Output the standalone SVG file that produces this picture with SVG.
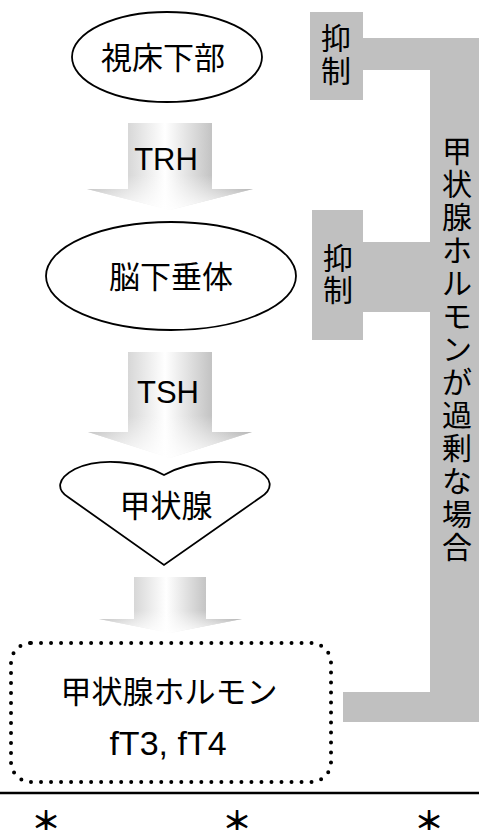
<svg xmlns="http://www.w3.org/2000/svg" width="479" height="830" viewBox="0 0 479 830">
<defs>
<linearGradient id="arrowH" x1="0" y1="0" x2="1" y2="0">
<stop offset="0" stop-color="#a8a8a8"/>
<stop offset="0.25" stop-color="#d8d8d8"/>
<stop offset="0.47" stop-color="#ffffff"/>
<stop offset="0.75" stop-color="#c4c4c4"/>
<stop offset="1" stop-color="#909090"/>
</linearGradient>
<linearGradient id="arrowV" x1="0" y1="0" x2="0" y2="1">
<stop offset="0.6" stop-color="#ffffff" stop-opacity="0"/>
<stop offset="1" stop-color="#ffffff" stop-opacity="0.9"/>
</linearGradient>
<style>
.node{fill:#fff;stroke:#000;stroke-width:1.8}
.jp{font-family:"Noto Sans CJK JP","Noto Sans",sans-serif;font-size:31px;fill:#000;text-anchor:middle}
.vjp{font-family:"Noto Sans CJK JP","Noto Sans",sans-serif;font-size:30px;fill:#000;text-anchor:middle}
.lat{font-family:"Liberation Sans",Arial,sans-serif;font-size:31px;fill:#000;text-anchor:middle}
.ast{font-family:"Noto Sans CJK JP","Noto Sans",sans-serif;font-size:30px;font-weight:bold;fill:#000;text-anchor:middle}
.bar{fill:#c0c0c0}
.arr{fill:url(#arrowH)}
.arrv{fill:url(#arrowV)}
</style>
</defs>

<g id="feedback">
<rect class="bar" x="310" y="12" width="53" height="88"/>
<rect class="bar" x="362" y="38" width="70" height="32"/>
<rect class="bar" x="312" y="210" width="51" height="130"/>
<rect class="bar" x="362" y="242" width="70" height="70"/>
<rect class="bar" x="343" y="692" width="89" height="30"/>
<rect class="bar" x="430" y="38" width="49" height="684"/>
<text class="vjp"><tspan x="336" y="49">抑</tspan><tspan x="336" y="82">制</tspan></text>
<text class="vjp"><tspan x="338" y="269">抑</tspan><tspan x="338" y="301">制</tspan></text>
<text class="vjp"><tspan x="457" y="162">甲</tspan><tspan x="457" y="195">状</tspan><tspan x="457" y="228">腺</tspan><tspan x="457" y="261">ホ</tspan><tspan x="457" y="294">ル</tspan><tspan x="457" y="327">モ</tspan><tspan x="457" y="360">ン</tspan><tspan x="457" y="393">が</tspan><tspan x="457" y="426">過</tspan><tspan x="457" y="459">剰</tspan><tspan x="457" y="492">な</tspan><tspan x="457" y="525">場</tspan><tspan x="457" y="558">合</tspan></text>
</g>

<g id="connectors">
<g id="arrow-trh">
<polygon class="arr" points="128,123 212,123 212,189 253,189 170,210 87,189 128,189"/>
<polygon class="arrv" points="128,123 212,123 212,189 253,189 170,210 87,189 128,189"/>
<text class="lat" x="166" y="170">TRH</text>
</g>
<g id="arrow-tsh">
<polygon class="arr" points="128,352 212,352 212,432 252,432 170,458 88,432 128,432"/>
<polygon class="arrv" points="128,352 212,352 212,432 252,432 170,458 88,432 128,432"/>
<text class="lat" x="168" y="403">TSH</text>
</g>
<g id="arrow-hormone">
<polygon class="arr" points="134,577 206,577 206,619 242,619 170,633 99,619 134,619"/>
<polygon class="arrv" points="134,577 206,577 206,619 242,619 170,633 99,619 134,619"/>
</g>
</g>

<g id="hypothalamus">
<ellipse class="node" cx="167" cy="57" rx="95" ry="45"/>
<text class="jp" x="163" y="69">視床下部</text>
</g>

<g id="pituitary">
<ellipse class="node" cx="171" cy="276" rx="125" ry="54"/>
<text class="jp" x="171" y="288">脳下垂体</text>
</g>

<g id="thyroid">
<path class="node" d="M164,475 C140,461 100,457 75,469 C56,479 57,490 68,497 L164,565 L261,497 C273,489 274,478 255,469 C230,457 188,461 164,475 Z"/>
<text class="jp" x="166" y="517">甲状腺</text>
</g>

<g id="hormone">
<rect x="11" y="643" width="320" height="139" rx="20" ry="20" fill="#fff" stroke="#000" stroke-width="4" stroke-linecap="round" stroke-dasharray="0 10.02"/>
<text class="jp" x="169" y="703">甲状腺ホルモン</text>
<text class="lat" x="168" y="755" style="font-size:34px">fT3, fT4</text>
</g>

<g id="footer">
<line x1="0" y1="793" x2="479" y2="793" stroke="#000" stroke-width="2.5"/>
<text class="ast" x="46" y="833">＊</text>
<text class="ast" x="237" y="833">＊</text>
<text class="ast" x="429" y="833">＊</text>
</g>
</svg>
